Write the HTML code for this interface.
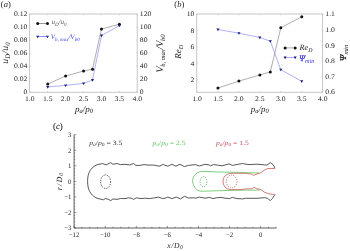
<!DOCTYPE html>
<html><head><meta charset="utf-8"><style>
html,body{margin:0;padding:0;background:#fff;}
body{width:350px;height:251px;overflow:hidden;}
svg{display:block;font-family:"Liberation Serif", serif;will-change:transform;filter:blur(0.25px);text-rendering:geometricPrecision;}
</style></head><body>
<svg width="350" height="251" viewBox="0 0 350 251">
<rect x="29.6" y="14.0" width="107.6" height="78.3" fill="none" stroke="#c0c0c0" stroke-width="0.9"/>
<line x1="29.8" y1="92" x2="29.8" y2="90.8" stroke="#c0c0c0" stroke-width="0.6"/>
<line x1="29.8" y1="14" x2="29.8" y2="15.2" stroke="#c0c0c0" stroke-width="0.6"/>
<text transform="translate(29.8,100.5) scale(1.1,1)" font-size="7" text-anchor="middle" fill="#222222"  >1.0</text>
<line x1="47.72" y1="92" x2="47.72" y2="90.8" stroke="#c0c0c0" stroke-width="0.6"/>
<line x1="47.72" y1="14" x2="47.72" y2="15.2" stroke="#c0c0c0" stroke-width="0.6"/>
<text transform="translate(47.72,100.5) scale(1.1,1)" font-size="7" text-anchor="middle" fill="#222222"  >1.5</text>
<line x1="65.63" y1="92" x2="65.63" y2="90.8" stroke="#c0c0c0" stroke-width="0.6"/>
<line x1="65.63" y1="14" x2="65.63" y2="15.2" stroke="#c0c0c0" stroke-width="0.6"/>
<text transform="translate(65.63,100.5) scale(1.1,1)" font-size="7" text-anchor="middle" fill="#222222"  >2.0</text>
<line x1="83.55" y1="92" x2="83.55" y2="90.8" stroke="#c0c0c0" stroke-width="0.6"/>
<line x1="83.55" y1="14" x2="83.55" y2="15.2" stroke="#c0c0c0" stroke-width="0.6"/>
<text transform="translate(83.55,100.5) scale(1.1,1)" font-size="7" text-anchor="middle" fill="#222222"  >2.5</text>
<line x1="101.47" y1="92" x2="101.47" y2="90.8" stroke="#c0c0c0" stroke-width="0.6"/>
<line x1="101.47" y1="14" x2="101.47" y2="15.2" stroke="#c0c0c0" stroke-width="0.6"/>
<text transform="translate(101.47,100.5) scale(1.1,1)" font-size="7" text-anchor="middle" fill="#222222"  >3.0</text>
<line x1="119.38" y1="92" x2="119.38" y2="90.8" stroke="#c0c0c0" stroke-width="0.6"/>
<line x1="119.38" y1="14" x2="119.38" y2="15.2" stroke="#c0c0c0" stroke-width="0.6"/>
<text transform="translate(119.38,100.5) scale(1.1,1)" font-size="7" text-anchor="middle" fill="#222222"  >3.5</text>
<line x1="137.3" y1="92" x2="137.3" y2="90.8" stroke="#c0c0c0" stroke-width="0.6"/>
<line x1="137.3" y1="14" x2="137.3" y2="15.2" stroke="#c0c0c0" stroke-width="0.6"/>
<text transform="translate(137.3,100.5) scale(1.1,1)" font-size="7" text-anchor="middle" fill="#222222"  >4.0</text>
<line x1="29.6" y1="92" x2="30.8" y2="92" stroke="#c0c0c0" stroke-width="0.6"/>
<text transform="translate(27.4,94.3) scale(1.1,1)" font-size="7" text-anchor="end" fill="#222222"  >0</text>
<line x1="29.6" y1="79" x2="30.8" y2="79" stroke="#c0c0c0" stroke-width="0.6"/>
<text transform="translate(27.4,81.3) scale(1.1,1)" font-size="7" text-anchor="end" fill="#222222"  >0.02</text>
<line x1="29.6" y1="66" x2="30.8" y2="66" stroke="#c0c0c0" stroke-width="0.6"/>
<text transform="translate(27.4,68.3) scale(1.1,1)" font-size="7" text-anchor="end" fill="#222222"  >0.04</text>
<line x1="29.6" y1="53" x2="30.8" y2="53" stroke="#c0c0c0" stroke-width="0.6"/>
<text transform="translate(27.4,55.3) scale(1.1,1)" font-size="7" text-anchor="end" fill="#222222"  >0.06</text>
<line x1="29.6" y1="40" x2="30.8" y2="40" stroke="#c0c0c0" stroke-width="0.6"/>
<text transform="translate(27.4,42.3) scale(1.1,1)" font-size="7" text-anchor="end" fill="#222222"  >0.08</text>
<line x1="29.6" y1="27" x2="30.8" y2="27" stroke="#c0c0c0" stroke-width="0.6"/>
<text transform="translate(27.4,29.3) scale(1.1,1)" font-size="7" text-anchor="end" fill="#222222"  >0.10</text>
<line x1="29.6" y1="14" x2="30.8" y2="14" stroke="#c0c0c0" stroke-width="0.6"/>
<text transform="translate(27.4,16.3) scale(1.1,1)" font-size="7" text-anchor="end" fill="#222222"  >0.12</text>
<line x1="137.2" y1="92" x2="136" y2="92" stroke="#c0c0c0" stroke-width="0.6"/>
<text transform="translate(139.8,94.3) scale(1.1,1)" font-size="7" text-anchor="start" fill="#222222"  >0</text>
<line x1="137.2" y1="79" x2="136" y2="79" stroke="#c0c0c0" stroke-width="0.6"/>
<text transform="translate(139.8,81.3) scale(1.1,1)" font-size="7" text-anchor="start" fill="#222222"  >20</text>
<line x1="137.2" y1="66" x2="136" y2="66" stroke="#c0c0c0" stroke-width="0.6"/>
<text transform="translate(139.8,68.3) scale(1.1,1)" font-size="7" text-anchor="start" fill="#222222"  >40</text>
<line x1="137.2" y1="53" x2="136" y2="53" stroke="#c0c0c0" stroke-width="0.6"/>
<text transform="translate(139.8,55.3) scale(1.1,1)" font-size="7" text-anchor="start" fill="#222222"  >60</text>
<line x1="137.2" y1="40" x2="136" y2="40" stroke="#c0c0c0" stroke-width="0.6"/>
<text transform="translate(139.8,42.3) scale(1.1,1)" font-size="7" text-anchor="start" fill="#222222"  >80</text>
<line x1="137.2" y1="27" x2="136" y2="27" stroke="#c0c0c0" stroke-width="0.6"/>
<text transform="translate(139.8,29.3) scale(1.1,1)" font-size="7" text-anchor="start" fill="#222222"  >100</text>
<line x1="137.2" y1="14" x2="136" y2="14" stroke="#c0c0c0" stroke-width="0.6"/>
<text transform="translate(139.8,16.3) scale(1.1,1)" font-size="7" text-anchor="start" fill="#222222"  >120</text>
<polyline points="47.72,84 65.63,76 83.55,71 92.51,69.2 101.47,29 119.38,24.3" fill="none" stroke="#6a6a6a" stroke-width="0.55" />
<polyline points="47.72,87 65.63,85.4 83.55,83.4 92.51,80 101.47,35.5 119.38,25.7" fill="none" stroke="#6262ee" stroke-width="0.5" />
<circle cx="47.72" cy="84" r="1.5" fill="#111111"/>
<circle cx="65.63" cy="76" r="1.5" fill="#111111"/>
<circle cx="83.55" cy="71" r="1.5" fill="#111111"/>
<circle cx="92.51" cy="69.2" r="1.5" fill="#111111"/>
<circle cx="101.47" cy="29" r="1.5" fill="#111111"/>
<circle cx="119.38" cy="24.3" r="1.5" fill="#111111"/>
<polygon points="46.17,86.05 49.27,86.05 47.72,88.65" fill="#1c1c7a"/>
<polygon points="64.08,84.45 67.18,84.45 65.63,87.05" fill="#1c1c7a"/>
<polygon points="82,82.45 85.1,82.45 83.55,85.05" fill="#1c1c7a"/>
<polygon points="90.96,79.05 94.06,79.05 92.51,81.65" fill="#1c1c7a"/>
<polygon points="99.92,34.55 103.02,34.55 101.47,37.15" fill="#1c1c7a"/>
<polygon points="117.83,24.75 120.93,24.75 119.38,27.35" fill="#1c1c7a"/>
<line x1="37.9" y1="23.5" x2="47.4" y2="23.5" stroke="#6a6a6a" stroke-width="0.7"/>
<circle cx="37.7" cy="23.5" r="1.5" fill="#111111"/>
<circle cx="47.5" cy="23.5" r="1.5" fill="#111111"/>
<line x1="37.9" y1="36.5" x2="47.4" y2="36.5" stroke="#6262ee" stroke-width="0.7"/>
<polygon points="36.15,35.65 39.25,35.65 37.7,38.25" fill="#1c1c7a"/>
<polygon points="45.95,35.65 49.05,35.65 47.5,38.25" fill="#1c1c7a"/>
<text x="51.4" y="24.4" font-size="7" font-style="italic" fill="#555">u<tspan font-size="5" dy="1.3">D</tspan><tspan dy="-1.3">/u</tspan><tspan font-size="5" dy="1.3">0</tspan></text>
<text x="50.8" y="39.2" font-size="7" font-style="italic" fill="#3a3ad8">V<tspan font-size="5" dy="1.5">b, max</tspan><tspan dy="-1.5">/V</tspan><tspan font-size="5" dy="1.5">b0</tspan></text>
<text x="84" y="111.6" font-size="9" font-style="italic" text-anchor="middle" fill="#222222">p<tspan font-size="6.5" dy="1.6">a</tspan><tspan dy="-1.6">/p</tspan><tspan font-size="6.5" dy="1.6">0</tspan></text>
<text transform="translate(8.0,53.0) rotate(-90)" font-size="9.6" font-style="italic" text-anchor="middle" fill="#222222" textLength="21.4" lengthAdjust="spacing">u<tspan font-size="6.8" dy="1.6">D</tspan><tspan dy="-1.6">/u</tspan><tspan font-size="6.8" dy="1.6">0</tspan></text>
<text transform="translate(163.0,53.5) rotate(-90)" font-size="9.8" font-style="italic" text-anchor="middle" fill="#222222" textLength="38.2" lengthAdjust="spacing">V<tspan font-size="6.6" dy="1.6">b, max</tspan><tspan dy="-1.6">/V</tspan><tspan font-size="6.6" dy="1.6">b0</tspan></text>
<text x="0.8" y="6.9" font-size="8.5" text-anchor="start" fill="#222222"  >(<tspan font-style="italic">a</tspan>)</text>
<rect x="196.7" y="14.0" width="125.9" height="78.3" fill="none" stroke="#c0c0c0" stroke-width="0.9"/>
<line x1="197" y1="92" x2="197" y2="90.8" stroke="#c0c0c0" stroke-width="0.6"/>
<line x1="197" y1="14" x2="197" y2="15.2" stroke="#c0c0c0" stroke-width="0.6"/>
<text transform="translate(197,100.5) scale(1.1,1)" font-size="7" text-anchor="middle" fill="#222222"  >1.0</text>
<line x1="217.95" y1="92" x2="217.95" y2="90.8" stroke="#c0c0c0" stroke-width="0.6"/>
<line x1="217.95" y1="14" x2="217.95" y2="15.2" stroke="#c0c0c0" stroke-width="0.6"/>
<text transform="translate(217.95,100.5) scale(1.1,1)" font-size="7" text-anchor="middle" fill="#222222"  >1.5</text>
<line x1="238.9" y1="92" x2="238.9" y2="90.8" stroke="#c0c0c0" stroke-width="0.6"/>
<line x1="238.9" y1="14" x2="238.9" y2="15.2" stroke="#c0c0c0" stroke-width="0.6"/>
<text transform="translate(238.9,100.5) scale(1.1,1)" font-size="7" text-anchor="middle" fill="#222222"  >2.0</text>
<line x1="259.85" y1="92" x2="259.85" y2="90.8" stroke="#c0c0c0" stroke-width="0.6"/>
<line x1="259.85" y1="14" x2="259.85" y2="15.2" stroke="#c0c0c0" stroke-width="0.6"/>
<text transform="translate(259.85,100.5) scale(1.1,1)" font-size="7" text-anchor="middle" fill="#222222"  >2.5</text>
<line x1="280.8" y1="92" x2="280.8" y2="90.8" stroke="#c0c0c0" stroke-width="0.6"/>
<line x1="280.8" y1="14" x2="280.8" y2="15.2" stroke="#c0c0c0" stroke-width="0.6"/>
<text transform="translate(280.8,100.5) scale(1.1,1)" font-size="7" text-anchor="middle" fill="#222222"  >3.0</text>
<line x1="301.75" y1="92" x2="301.75" y2="90.8" stroke="#c0c0c0" stroke-width="0.6"/>
<line x1="301.75" y1="14" x2="301.75" y2="15.2" stroke="#c0c0c0" stroke-width="0.6"/>
<text transform="translate(301.75,100.5) scale(1.1,1)" font-size="7" text-anchor="middle" fill="#222222"  >3.5</text>
<line x1="322.7" y1="92" x2="322.7" y2="90.8" stroke="#c0c0c0" stroke-width="0.6"/>
<line x1="322.7" y1="14" x2="322.7" y2="15.2" stroke="#c0c0c0" stroke-width="0.6"/>
<text transform="translate(322.7,100.5) scale(1.1,1)" font-size="7" text-anchor="middle" fill="#222222"  >4.0</text>
<line x1="196.7" y1="79.68" x2="197.9" y2="79.68" stroke="#c0c0c0" stroke-width="0.6"/>
<text transform="translate(194.4,81.98) scale(1.1,1)" font-size="7" text-anchor="end" fill="#222222"  >2</text>
<line x1="196.7" y1="63.26" x2="197.9" y2="63.26" stroke="#c0c0c0" stroke-width="0.6"/>
<text transform="translate(194.4,65.56) scale(1.1,1)" font-size="7" text-anchor="end" fill="#222222"  >4</text>
<line x1="196.7" y1="46.84" x2="197.9" y2="46.84" stroke="#c0c0c0" stroke-width="0.6"/>
<text transform="translate(194.4,49.14) scale(1.1,1)" font-size="7" text-anchor="end" fill="#222222"  >6</text>
<line x1="196.7" y1="30.42" x2="197.9" y2="30.42" stroke="#c0c0c0" stroke-width="0.6"/>
<text transform="translate(194.4,32.72) scale(1.1,1)" font-size="7" text-anchor="end" fill="#222222"  >8</text>
<line x1="196.7" y1="14" x2="197.9" y2="14" stroke="#c0c0c0" stroke-width="0.6"/>
<text transform="translate(194.4,16.3) scale(1.1,1)" font-size="7" text-anchor="end" fill="#222222"  >10</text>
<line x1="322.6" y1="92" x2="321.4" y2="92" stroke="#c0c0c0" stroke-width="0.6"/>
<text transform="translate(325.3,94.3) scale(1.1,1)" font-size="7" text-anchor="start" fill="#222222"  >0.6</text>
<line x1="322.6" y1="76.4" x2="321.4" y2="76.4" stroke="#c0c0c0" stroke-width="0.6"/>
<text transform="translate(325.3,78.7) scale(1.1,1)" font-size="7" text-anchor="start" fill="#222222"  >0.7</text>
<line x1="322.6" y1="60.8" x2="321.4" y2="60.8" stroke="#c0c0c0" stroke-width="0.6"/>
<text transform="translate(325.3,63.1) scale(1.1,1)" font-size="7" text-anchor="start" fill="#222222"  >0.8</text>
<line x1="322.6" y1="45.2" x2="321.4" y2="45.2" stroke="#c0c0c0" stroke-width="0.6"/>
<text transform="translate(325.3,47.5) scale(1.1,1)" font-size="7" text-anchor="start" fill="#222222"  >0.9</text>
<line x1="322.6" y1="29.6" x2="321.4" y2="29.6" stroke="#c0c0c0" stroke-width="0.6"/>
<text transform="translate(325.3,31.9) scale(1.1,1)" font-size="7" text-anchor="start" fill="#222222"  >1.0</text>
<line x1="322.6" y1="14" x2="321.4" y2="14" stroke="#c0c0c0" stroke-width="0.6"/>
<text transform="translate(325.3,16.3) scale(1.1,1)" font-size="7" text-anchor="start" fill="#222222"  >1.1</text>
<polyline points="217.95,88 238.9,81.1 259.85,75 270.32,71.9 280.8,27.7 301.75,16.8" fill="none" stroke="#6a6a6a" stroke-width="0.55" />
<polyline points="217.95,29.5 238.9,33.2 259.85,37.5 270.32,41.2 280.8,69.7 301.75,81.3" fill="none" stroke="#6262ee" stroke-width="0.5" />
<circle cx="217.95" cy="88" r="1.5" fill="#111111"/>
<circle cx="238.9" cy="81.1" r="1.5" fill="#111111"/>
<circle cx="259.85" cy="75" r="1.5" fill="#111111"/>
<circle cx="270.32" cy="71.9" r="1.5" fill="#111111"/>
<circle cx="280.8" cy="27.7" r="1.5" fill="#111111"/>
<circle cx="301.75" cy="16.8" r="1.5" fill="#111111"/>
<polygon points="216.4,28.55 219.5,28.55 217.95,31.15" fill="#1c1c7a"/>
<polygon points="237.35,32.25 240.45,32.25 238.9,34.85" fill="#1c1c7a"/>
<polygon points="258.3,36.55 261.4,36.55 259.85,39.15" fill="#1c1c7a"/>
<polygon points="268.77,40.25 271.88,40.25 270.32,42.85" fill="#1c1c7a"/>
<polygon points="279.25,68.75 282.35,68.75 280.8,71.35" fill="#1c1c7a"/>
<polygon points="300.2,80.35 303.3,80.35 301.75,82.95" fill="#1c1c7a"/>
<line x1="285.1" y1="47.9" x2="295.2" y2="47.9" stroke="#6a6a6a" stroke-width="0.55"/>
<circle cx="285.1" cy="47.9" r="1.5" fill="#111111"/>
<circle cx="295.2" cy="47.9" r="1.5" fill="#111111"/>
<line x1="285.1" y1="57.5" x2="295.2" y2="57.5" stroke="#6262ee" stroke-width="0.55"/>
<polygon points="283.55,56.55 286.65,56.55 285.1,59.15" fill="#1c1c7a"/>
<polygon points="293.65,56.55 296.75,56.55 295.2,59.15" fill="#1c1c7a"/>
<text x="299.5" y="50.0" font-size="8.2" font-style="italic" fill="#222222">Re<tspan font-size="5.8" dy="1.5">D</tspan></text>
<text x="299.2" y="60.7" font-size="8.3" font-style="italic" fill="#3a3ad8"><tspan stroke="#3a3ad8" stroke-width="0.3">Ψ</tspan><tspan font-size="6.3" dy="1.8">min</tspan></text>
<text x="259.8" y="111.6" font-size="9" font-style="italic" text-anchor="middle" fill="#222222">p<tspan font-size="6.5" dy="1.6">a</tspan><tspan dy="-1.6">/p</tspan><tspan font-size="6.5" dy="1.6">0</tspan></text>
<text transform="translate(181.2,51.8) rotate(-90)" font-size="9" font-style="italic" text-anchor="middle" fill="#222222">Re<tspan font-size="6.2" dy="1.4">D</tspan></text>
<text transform="translate(346.0,52.9) rotate(-90)" font-size="9" font-style="italic" text-anchor="middle" fill="#222222"><tspan stroke="#222222" stroke-width="0.3">Ψ</tspan><tspan font-size="6.5" dy="2.0">min</tspan></text>
<text x="174.3" y="6.9" font-size="8.5" text-anchor="start" fill="#222222"  >(<tspan font-style="italic">b</tspan>)</text>
<line x1="74.1" y1="134.7" x2="74.1" y2="228" stroke="#333333" stroke-width="0.8"/>
<line x1="74.1" y1="228" x2="276.25" y2="228" stroke="#333333" stroke-width="0.8"/>
<line x1="74.1" y1="228" x2="76.3" y2="228" stroke="#333333" stroke-width="0.5"/>
<line x1="74.1" y1="224.89" x2="75.2" y2="224.89" stroke="#333333" stroke-width="0.4"/>
<line x1="74.1" y1="221.78" x2="75.2" y2="221.78" stroke="#333333" stroke-width="0.4"/>
<line x1="74.1" y1="218.67" x2="75.2" y2="218.67" stroke="#333333" stroke-width="0.4"/>
<line x1="74.1" y1="215.56" x2="75.2" y2="215.56" stroke="#333333" stroke-width="0.4"/>
<line x1="74.1" y1="212.45" x2="76.3" y2="212.45" stroke="#333333" stroke-width="0.5"/>
<line x1="74.1" y1="209.34" x2="75.2" y2="209.34" stroke="#333333" stroke-width="0.4"/>
<line x1="74.1" y1="206.23" x2="75.2" y2="206.23" stroke="#333333" stroke-width="0.4"/>
<line x1="74.1" y1="203.12" x2="75.2" y2="203.12" stroke="#333333" stroke-width="0.4"/>
<line x1="74.1" y1="200.01" x2="75.2" y2="200.01" stroke="#333333" stroke-width="0.4"/>
<line x1="74.1" y1="196.9" x2="76.3" y2="196.9" stroke="#333333" stroke-width="0.5"/>
<line x1="74.1" y1="193.79" x2="75.2" y2="193.79" stroke="#333333" stroke-width="0.4"/>
<line x1="74.1" y1="190.68" x2="75.2" y2="190.68" stroke="#333333" stroke-width="0.4"/>
<line x1="74.1" y1="187.57" x2="75.2" y2="187.57" stroke="#333333" stroke-width="0.4"/>
<line x1="74.1" y1="184.46" x2="75.2" y2="184.46" stroke="#333333" stroke-width="0.4"/>
<line x1="74.1" y1="181.35" x2="76.3" y2="181.35" stroke="#333333" stroke-width="0.5"/>
<line x1="74.1" y1="178.24" x2="75.2" y2="178.24" stroke="#333333" stroke-width="0.4"/>
<line x1="74.1" y1="175.13" x2="75.2" y2="175.13" stroke="#333333" stroke-width="0.4"/>
<line x1="74.1" y1="172.02" x2="75.2" y2="172.02" stroke="#333333" stroke-width="0.4"/>
<line x1="74.1" y1="168.91" x2="75.2" y2="168.91" stroke="#333333" stroke-width="0.4"/>
<line x1="74.1" y1="165.8" x2="76.3" y2="165.8" stroke="#333333" stroke-width="0.5"/>
<line x1="74.1" y1="162.69" x2="75.2" y2="162.69" stroke="#333333" stroke-width="0.4"/>
<line x1="74.1" y1="159.58" x2="75.2" y2="159.58" stroke="#333333" stroke-width="0.4"/>
<line x1="74.1" y1="156.47" x2="75.2" y2="156.47" stroke="#333333" stroke-width="0.4"/>
<line x1="74.1" y1="153.36" x2="75.2" y2="153.36" stroke="#333333" stroke-width="0.4"/>
<line x1="74.1" y1="150.25" x2="76.3" y2="150.25" stroke="#333333" stroke-width="0.5"/>
<line x1="74.1" y1="147.14" x2="75.2" y2="147.14" stroke="#333333" stroke-width="0.4"/>
<line x1="74.1" y1="144.03" x2="75.2" y2="144.03" stroke="#333333" stroke-width="0.4"/>
<line x1="74.1" y1="140.92" x2="75.2" y2="140.92" stroke="#333333" stroke-width="0.4"/>
<line x1="74.1" y1="137.81" x2="75.2" y2="137.81" stroke="#333333" stroke-width="0.4"/>
<line x1="74.1" y1="134.7" x2="76.3" y2="134.7" stroke="#333333" stroke-width="0.5"/>
<text x="71.4" y="230.3" font-size="6.8" text-anchor="end" fill="#222222"  >−3</text>
<text x="71.4" y="214.75" font-size="6.8" text-anchor="end" fill="#222222"  >−2</text>
<text x="71.4" y="199.2" font-size="6.8" text-anchor="end" fill="#222222"  >−1</text>
<text x="71.4" y="183.65" font-size="6.8" text-anchor="end" fill="#222222"  >0</text>
<text x="71.4" y="168.1" font-size="6.8" text-anchor="end" fill="#222222"  >1</text>
<text x="71.4" y="152.55" font-size="6.8" text-anchor="end" fill="#222222"  >2</text>
<text x="71.4" y="137" font-size="6.8" text-anchor="end" fill="#222222"  >3</text>
<line x1="74.1" y1="228" x2="74.1" y2="225.8" stroke="#333333" stroke-width="0.5"/>
<line x1="81.87" y1="228" x2="81.87" y2="226.8" stroke="#333333" stroke-width="0.5"/>
<line x1="89.65" y1="228" x2="89.65" y2="226.8" stroke="#333333" stroke-width="0.5"/>
<line x1="97.42" y1="228" x2="97.42" y2="226.8" stroke="#333333" stroke-width="0.5"/>
<line x1="105.2" y1="228" x2="105.2" y2="225.8" stroke="#333333" stroke-width="0.5"/>
<line x1="112.97" y1="228" x2="112.97" y2="226.8" stroke="#333333" stroke-width="0.5"/>
<line x1="120.75" y1="228" x2="120.75" y2="226.8" stroke="#333333" stroke-width="0.5"/>
<line x1="128.52" y1="228" x2="128.52" y2="226.8" stroke="#333333" stroke-width="0.5"/>
<line x1="136.3" y1="228" x2="136.3" y2="225.8" stroke="#333333" stroke-width="0.5"/>
<line x1="144.07" y1="228" x2="144.07" y2="226.8" stroke="#333333" stroke-width="0.5"/>
<line x1="151.85" y1="228" x2="151.85" y2="226.8" stroke="#333333" stroke-width="0.5"/>
<line x1="159.62" y1="228" x2="159.62" y2="226.8" stroke="#333333" stroke-width="0.5"/>
<line x1="167.4" y1="228" x2="167.4" y2="225.8" stroke="#333333" stroke-width="0.5"/>
<line x1="175.17" y1="228" x2="175.17" y2="226.8" stroke="#333333" stroke-width="0.5"/>
<line x1="182.95" y1="228" x2="182.95" y2="226.8" stroke="#333333" stroke-width="0.5"/>
<line x1="190.72" y1="228" x2="190.72" y2="226.8" stroke="#333333" stroke-width="0.5"/>
<line x1="198.5" y1="228" x2="198.5" y2="225.8" stroke="#333333" stroke-width="0.5"/>
<line x1="206.27" y1="228" x2="206.27" y2="226.8" stroke="#333333" stroke-width="0.5"/>
<line x1="214.05" y1="228" x2="214.05" y2="226.8" stroke="#333333" stroke-width="0.5"/>
<line x1="221.82" y1="228" x2="221.82" y2="226.8" stroke="#333333" stroke-width="0.5"/>
<line x1="229.6" y1="228" x2="229.6" y2="225.8" stroke="#333333" stroke-width="0.5"/>
<line x1="237.38" y1="228" x2="237.38" y2="226.8" stroke="#333333" stroke-width="0.5"/>
<line x1="245.15" y1="228" x2="245.15" y2="226.8" stroke="#333333" stroke-width="0.5"/>
<line x1="252.92" y1="228" x2="252.92" y2="226.8" stroke="#333333" stroke-width="0.5"/>
<line x1="260.7" y1="228" x2="260.7" y2="225.8" stroke="#333333" stroke-width="0.5"/>
<line x1="268.47" y1="228" x2="268.47" y2="226.8" stroke="#333333" stroke-width="0.5"/>
<line x1="276.25" y1="228" x2="276.25" y2="226.8" stroke="#333333" stroke-width="0.5"/>
<text x="74.1" y="236.6" font-size="6.8" text-anchor="middle" fill="#222222"  >−12</text>
<text x="105.2" y="236.6" font-size="6.8" text-anchor="middle" fill="#222222"  >−10</text>
<text x="136.3" y="236.6" font-size="6.8" text-anchor="middle" fill="#222222"  >−8</text>
<text x="167.4" y="236.6" font-size="6.8" text-anchor="middle" fill="#222222"  >−6</text>
<text x="198.5" y="236.6" font-size="6.8" text-anchor="middle" fill="#222222"  >−4</text>
<text x="229.6" y="236.6" font-size="6.8" text-anchor="middle" fill="#222222"  >−2</text>
<text x="260.7" y="236.6" font-size="6.8" text-anchor="middle" fill="#222222"  >0</text>
<text x="167.3" y="247.6" font-size="7.6" font-style="italic" fill="#222222" textLength="15.6" lengthAdjust="spacing">x/D<tspan font-size="5.6" dy="1.2">0</tspan></text>
<text transform="translate(61.6,190.2) rotate(-90)" font-size="8" font-style="italic" fill="#222222" textLength="17.4" lengthAdjust="spacing">r/D<tspan font-size="5.8" dy="1.3">0</tspan></text>
<text x="53" y="128.6" font-size="8.8" fill="#222222" stroke="#222222" stroke-width="0.08">(<tspan font-style="italic">c</tspan>)</text>
<text x="89.2" y="145.0" font-size="6.6" fill="#333" textLength="33.2" lengthAdjust="spacingAndGlyphs"><tspan font-style="italic">p</tspan><tspan font-size="4.8" dy="1.1" font-style="italic">a</tspan><tspan dy="-1.1">/</tspan><tspan font-style="italic">p</tspan><tspan font-size="4.8" dy="1.1">0</tspan><tspan dy="-1.1"> = 3.5</tspan></text>
<text x="152.4" y="145.1" font-size="6.6" fill="#5cc45c" textLength="33.2" lengthAdjust="spacingAndGlyphs"><tspan font-style="italic">p</tspan><tspan font-size="4.8" dy="1.1" font-style="italic">a</tspan><tspan dy="-1.1">/</tspan><tspan font-style="italic">p</tspan><tspan font-size="4.8" dy="1.1">0</tspan><tspan dy="-1.1"> = 2.5</tspan></text>
<text x="215.9" y="144.6" font-size="6.6" fill="#c44a5a" textLength="33.0" lengthAdjust="spacingAndGlyphs"><tspan font-style="italic">p</tspan><tspan font-size="4.8" dy="1.1" font-style="italic">a</tspan><tspan dy="-1.1">/</tspan><tspan font-style="italic">p</tspan><tspan font-size="4.8" dy="1.1">0</tspan><tspan dy="-1.1"> = 1.5</tspan></text>
<path d="M274.9,168 L273.1,164.6 L270.3,162.6 L266.9,165.1 L264.6,164.9 L257.1,164.2 L249.1,164.6 L244.6,164 L242.7,163.5 L238.1,164.3 L232.4,165.4 L229,163.9 L222.1,165.8 L217.6,165.1 L213.6,164.6 L210.7,165.8 L209,164.9 L205,164.3 L199.3,166 L195.3,164.6 L188.4,165.4 L184.4,166.6 L179.9,164.3 L175.9,166.2 L171.9,164.3 L167.9,166.2 L165,165.4 L163.3,164.3 L159.3,166.2 L153.6,165.1 L149,165.1 L143.9,164.6 L139.9,165.4 L135.9,165.4 L133.6,163.5 L129.6,164.9 L125,164.3 L120.4,164.6 L117,163.5 L113,164.3 L110.7,162.6 L106.1,164.9 L102.7,163.6 L98.09,164.45 L95.99,165.26 L94.11,166.35 L92.44,167.7 L90.99,169.32 L89.79,171.17 L88.84,173.25 L88.15,175.56 L87.74,178.13 L87.6,181.3 L87.74,184.54 L88.15,187.17 L88.84,189.53 L89.79,191.66 L90.99,193.56 L92.44,195.2 L94.11,196.59 L95.99,197.71 L98.09,198.53 L103.3,199.8 L105.6,198.5 L108.4,199.4 L110.7,200.6 L113,198.9 L117,199.4 L120.4,198.5 L125,198.6 L128.4,197.8 L131.3,198.2 L133.6,199.4 L136.4,197.8 L141,198.6 L145.6,198.2 L149.6,198.6 L153.6,198 L158.7,197.1 L162.7,198.6 L165,198.2 L167.9,197.1 L171.9,198.6 L176.4,197.1 L180.4,198.9 L184.4,196.3 L188.4,198 L193.6,197.8 L195.9,198.2 L199.3,197.1 L205,198.2 L209.6,197.4 L213,198.6 L216.4,197.8 L221,197.4 L225,198.2 L229.6,198.6 L232.4,197.4 L237,198.6 L242.7,198.9 L245.7,198.3 L257.1,198.3 L264.6,197.7 L267.4,198.3 L270.3,200.6 L272.6,198.3 L274.9,194.5" fill="none" stroke="#3a3a3a" stroke-width="0.85" stroke-linejoin="round"/>
<path d="M259,172.9 L254.9,172.9 L246.9,172.7 L240,172.4 L230,172.2 L218,172 L210,171.6 L201.1,171.4 L197.5,172.6 L195.2,174.4 L193.3,177.2 L192.5,180.9 L193.3,184.8 L195.2,188.1 L197.8,190.3 L201,191.2 L210,191 L218,190.7 L230,190.4 L240,190.2 L250,190.2 L260,190" fill="none" stroke="#56c056" stroke-width="0.75" stroke-linejoin="round"/>
<path d="M275.3,168.4 L270.5,168.5 L267.4,168.6 L264,170.3 L260.6,172.9 L256,174.3 L253.7,175.4 L251.4,174.1 L245.7,173.3 L240,173.3 L232,173.3 L229.5,173.5 L227.6,174.1 L225.2,175.8 L223.4,178.2 L223,181 L223.4,184.2 L225.2,187.3 L227.6,188.9 L230,189.6 L240,189.7 L246.9,188.8 L251.4,188.8 L254.3,187.4 L256.6,188.6 L260.6,189.5 L264.6,192.2 L268.6,193.7 L274.6,194.6" fill="none" stroke="#c4504a" stroke-width="0.75" stroke-linejoin="round"/>
<ellipse cx="105.6" cy="181.7" rx="5.0" ry="6.8" fill="none" stroke="#222" stroke-width="0.9" stroke-dasharray="1.1 1.3"/>
<ellipse cx="203.5" cy="181.7" rx="3.4" ry="5.2" fill="none" stroke="#3ea43e" stroke-width="0.85" stroke-dasharray="1.1 1.3"/>
<ellipse cx="231.6" cy="181.5" rx="5.4" ry="6.4" fill="none" stroke="#c4504a" stroke-width="0.85" stroke-dasharray="1.1 1.3"/>
</svg>
</body></html>
